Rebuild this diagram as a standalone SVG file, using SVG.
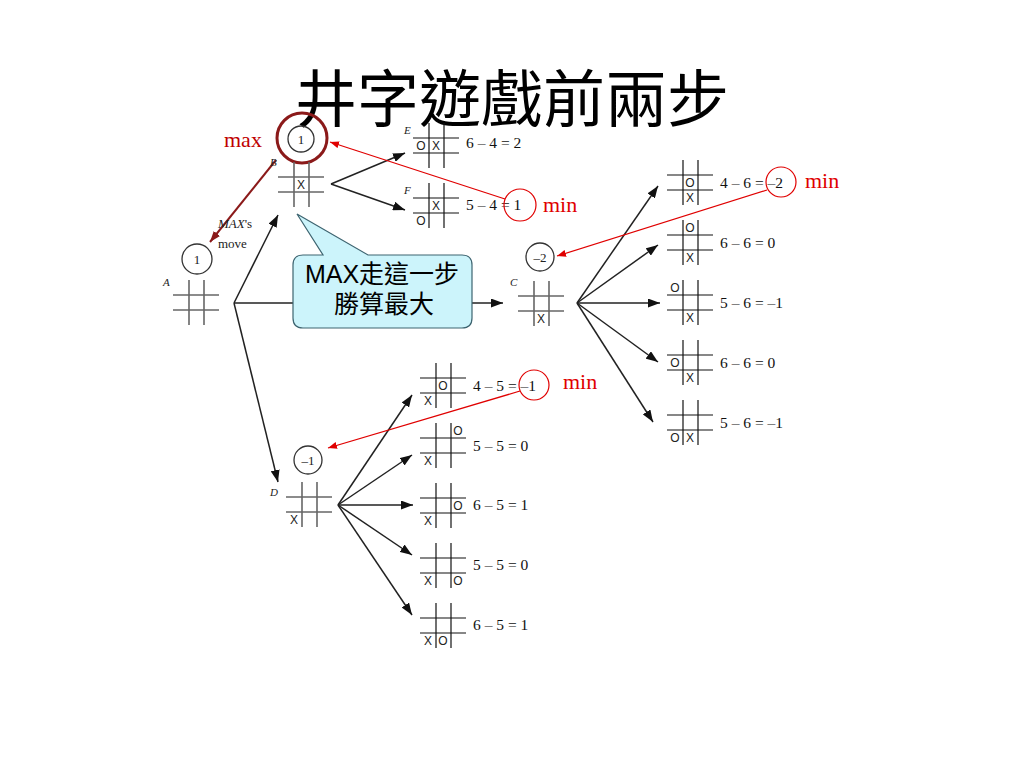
<svg xmlns="http://www.w3.org/2000/svg" width="1024" height="768" viewBox="0 0 1024 768">
<style>
.title{font-family:"Liberation Serif","Noto Sans CJK TC",serif;font-size:62px;fill:#000;text-anchor:middle}
.mk{font-family:"Liberation Sans",sans-serif;font-size:12px;fill:#222;text-anchor:middle}
.eq{font-family:"Liberation Serif",serif;font-size:15.5px;fill:#111}
.lbl{font-family:"Liberation Serif",serif;font-size:11px;font-style:italic;fill:#222}
.val{font-family:"Liberation Serif",serif;font-size:13px;fill:#222;text-anchor:middle}
.red{font-family:"Liberation Serif",serif;font-size:22px;fill:#e00000}
.gl{stroke:#666;stroke-width:1.6}
.bl{stroke:#111;stroke-width:1.2}
.edge{stroke:#222;stroke-width:1.5;fill:none;marker-end:url(#ah)}
.vc{fill:none;stroke:#333;stroke-width:1.3}
.rc{fill:none;stroke:#e00000;stroke-width:1.2}
.ra{stroke:#e00000;stroke-width:1.3;marker-end:url(#rh)}
.call{font-family:"Liberation Sans","Noto Sans CJK TC",sans-serif;font-size:25px;fill:#000;text-anchor:middle}
</style>
<defs>
<marker id="ah" viewBox="0 0 12 9" refX="12" refY="4.5" markerWidth="12" markerHeight="9" markerUnits="userSpaceOnUse" orient="auto"><path d="M0,0 L12,4.5 L0,9 z" fill="#111"/></marker>
<marker id="rh" viewBox="0 0 9 7" refX="9" refY="3.5" markerWidth="9" markerHeight="7" markerUnits="userSpaceOnUse" orient="auto"><path d="M0,0 L9,3.5 L0,7 z" fill="#e00000"/></marker>
<marker id="dh" viewBox="0 0 11 8" refX="11" refY="4" markerWidth="11" markerHeight="8" markerUnits="userSpaceOnUse" orient="auto"><path d="M0,0 L11,4 L0,8 z" fill="#8b1a1a"/></marker>
<g id="grid"><line x1="0" y1="15" x2="46" y2="15"/><line x1="0" y1="30" x2="46" y2="30"/><line x1="16" y1="0" x2="16" y2="45"/><line x1="31" y1="0" x2="31" y2="45"/></g>
</defs>

<text class="title" x="512" y="122">井字遊戲前兩步</text>

<g id="connectors">
<line class="edge" x1="234" y1="303" x2="278" y2="215"/>
<line class="edge" x1="234" y1="303" x2="503" y2="303"/>
<line class="edge" x1="234" y1="303" x2="278" y2="482"/>
<line class="edge" x1="331" y1="184" x2="405" y2="153"/>
<line class="edge" x1="331" y1="184" x2="405" y2="210"/>
<line class="edge" x1="577" y1="303" x2="658" y2="186"/>
<line class="edge" x1="577" y1="303" x2="658" y2="245"/>
<line class="edge" x1="577" y1="303" x2="660" y2="303"/>
<line class="edge" x1="577" y1="303" x2="658" y2="362"/>
<line class="edge" x1="577" y1="303" x2="653" y2="422"/>
<line class="edge" x1="338" y1="505" x2="412" y2="395"/>
<line class="edge" x1="338" y1="505" x2="412" y2="455"/>
<line class="edge" x1="338" y1="505" x2="413" y2="505"/>
<line class="edge" x1="338" y1="505" x2="412" y2="555"/>
<line class="edge" x1="338" y1="505" x2="412" y2="615"/>
<line class="ra" x1="505" y1="199" x2="330" y2="142"/>
<line class="ra" x1="767" y1="190" x2="557" y2="256"/>
<line class="ra" x1="520" y1="391" x2="328" y2="448"/>
<line x1="276" y1="160" x2="210" y2="242" stroke="#8b1a1a" stroke-width="2" marker-end="url(#dh)"/>
</g>

<g id="nodeA">
<circle class="vc" cx="197" cy="259" r="15"/><text class="val" x="197" y="264">1</text>
<text class="lbl" x="163" y="286">A</text>
<use href="#grid" class="gl" x="173" y="280"/>
<text x="218" y="228" font-family="Liberation Serif,serif" font-size="13" fill="#222"><tspan font-style="italic">MAX</tspan>'s</text>
<text x="218" y="248" font-family="Liberation Serif,serif" font-size="13" fill="#222">move</text>
</g>

<g id="nodeB">
<circle class="vc" cx="301" cy="139" r="13" stroke="#666"/><text class="val" x="301" y="144">1</text>
<circle cx="302" cy="138" r="25" fill="none" stroke="#8b1a1a" stroke-width="3"/>
<text class="red" x="224" y="147" style="fill:#c00000">max</text>
<text class="lbl" x="270" y="166">B</text>
<use href="#grid" class="gl" x="278" y="162"/>
<text class="mk" x="301" y="189">X</text>
</g>

<g id="nodeE">
<text class="lbl" x="404" y="134">E</text>
<use href="#grid" class="bl" x="413" y="123"/>
<text class="mk" x="421" y="150">O</text><text class="mk" x="436" y="150">X</text>
<text class="eq" x="466" y="148">6 – 4 = 2</text>
</g>

<g id="nodeF">
<text class="lbl" x="404" y="194">F</text>
<use href="#grid" class="bl" x="413" y="183"/>
<text class="mk" x="436" y="210">X</text><text class="mk" x="421" y="225">O</text>
<text class="eq" x="466" y="210">5 – 4 = 1</text>
<circle class="rc" cx="520" cy="205" r="16"/>
<text class="red" x="543" y="212">min</text>
</g>

<g id="callout">
<path d="M303,255 L323,255 L297,214 L368,255 L462,255 Q472,255 472,265 L472,318 Q472,328 462,328 L303,328 Q293,328 293,318 L293,265 Q293,255 303,255 Z" fill="#ccf4fb" stroke="#3d6470" stroke-width="1.2"/>
<text class="call" x="382" y="283">MAX走這一步</text>
<text class="call" x="384" y="313">勝算最大</text>
</g>

<g id="nodeC">
<circle class="vc" cx="540" cy="257" r="14"/><text class="val" x="540" y="262">–2</text>
<text class="lbl" x="510" y="286">C</text>
<use href="#grid" class="gl" x="518" y="281"/>
<text class="mk" x="541" y="323">X</text>
</g>

<g id="nodeC1">
<use href="#grid" class="bl" x="667" y="160"/>
<text class="mk" x="690" y="187">O</text><text class="mk" x="690" y="202">X</text>
<text class="eq" x="720" y="188">4 – 6 = –2</text>
<circle class="rc" cx="781" cy="182" r="15"/>
<text class="red" x="805" y="188">min</text>
</g>
<g id="nodeC2">
<use href="#grid" class="bl" x="667" y="220"/>
<text class="mk" x="690" y="232">O</text><text class="mk" x="690" y="262">X</text>
<text class="eq" x="720" y="248">6 – 6 = 0</text>
</g>
<g id="nodeC3">
<use href="#grid" class="bl" x="667" y="280"/>
<text class="mk" x="675" y="292">O</text><text class="mk" x="690" y="322">X</text>
<text class="eq" x="720" y="308">5 – 6 = –1</text>
</g>
<g id="nodeC4">
<use href="#grid" class="bl" x="667" y="340"/>
<text class="mk" x="675" y="367">O</text><text class="mk" x="690" y="382">X</text>
<text class="eq" x="720" y="368">6 – 6 = 0</text>
</g>
<g id="nodeC5">
<use href="#grid" class="bl" x="667" y="400"/>
<text class="mk" x="675" y="442">O</text><text class="mk" x="690" y="442">X</text>
<text class="eq" x="720" y="428">5 – 6 = –1</text>
</g>

<g id="nodeD">
<circle class="vc" cx="308" cy="460" r="14"/><text class="val" x="308" y="465">–1</text>
<text class="lbl" x="270" y="496">D</text>
<use href="#grid" class="gl" x="286" y="482"/>
<text class="mk" x="294" y="524">X</text>
</g>

<g id="nodeD1">
<use href="#grid" class="bl" x="420" y="363"/>
<text class="mk" x="443" y="390">O</text><text class="mk" x="428" y="405">X</text>
<text class="eq" x="473" y="391">4 – 5 = –1</text>
<circle class="rc" cx="534" cy="385" r="15"/>
<text class="red" x="563" y="389">min</text>
</g>
<g id="nodeD2">
<use href="#grid" class="bl" x="420" y="423"/>
<text class="mk" x="458" y="435">O</text><text class="mk" x="428" y="465">X</text>
<text class="eq" x="473" y="451">5 – 5 = 0</text>
</g>
<g id="nodeD3">
<use href="#grid" class="bl" x="420" y="483"/>
<text class="mk" x="458" y="510">O</text><text class="mk" x="428" y="525">X</text>
<text class="eq" x="473" y="510">6 – 5 = 1</text>
</g>
<g id="nodeD4">
<use href="#grid" class="bl" x="420" y="543"/>
<text class="mk" x="458" y="585">O</text><text class="mk" x="428" y="585">X</text>
<text class="eq" x="473" y="570">5 – 5 = 0</text>
</g>
<g id="nodeD5">
<use href="#grid" class="bl" x="420" y="603"/>
<text class="mk" x="443" y="645">O</text><text class="mk" x="428" y="645">X</text>
<text class="eq" x="473" y="630">6 – 5 = 1</text>
</g>
</svg>
